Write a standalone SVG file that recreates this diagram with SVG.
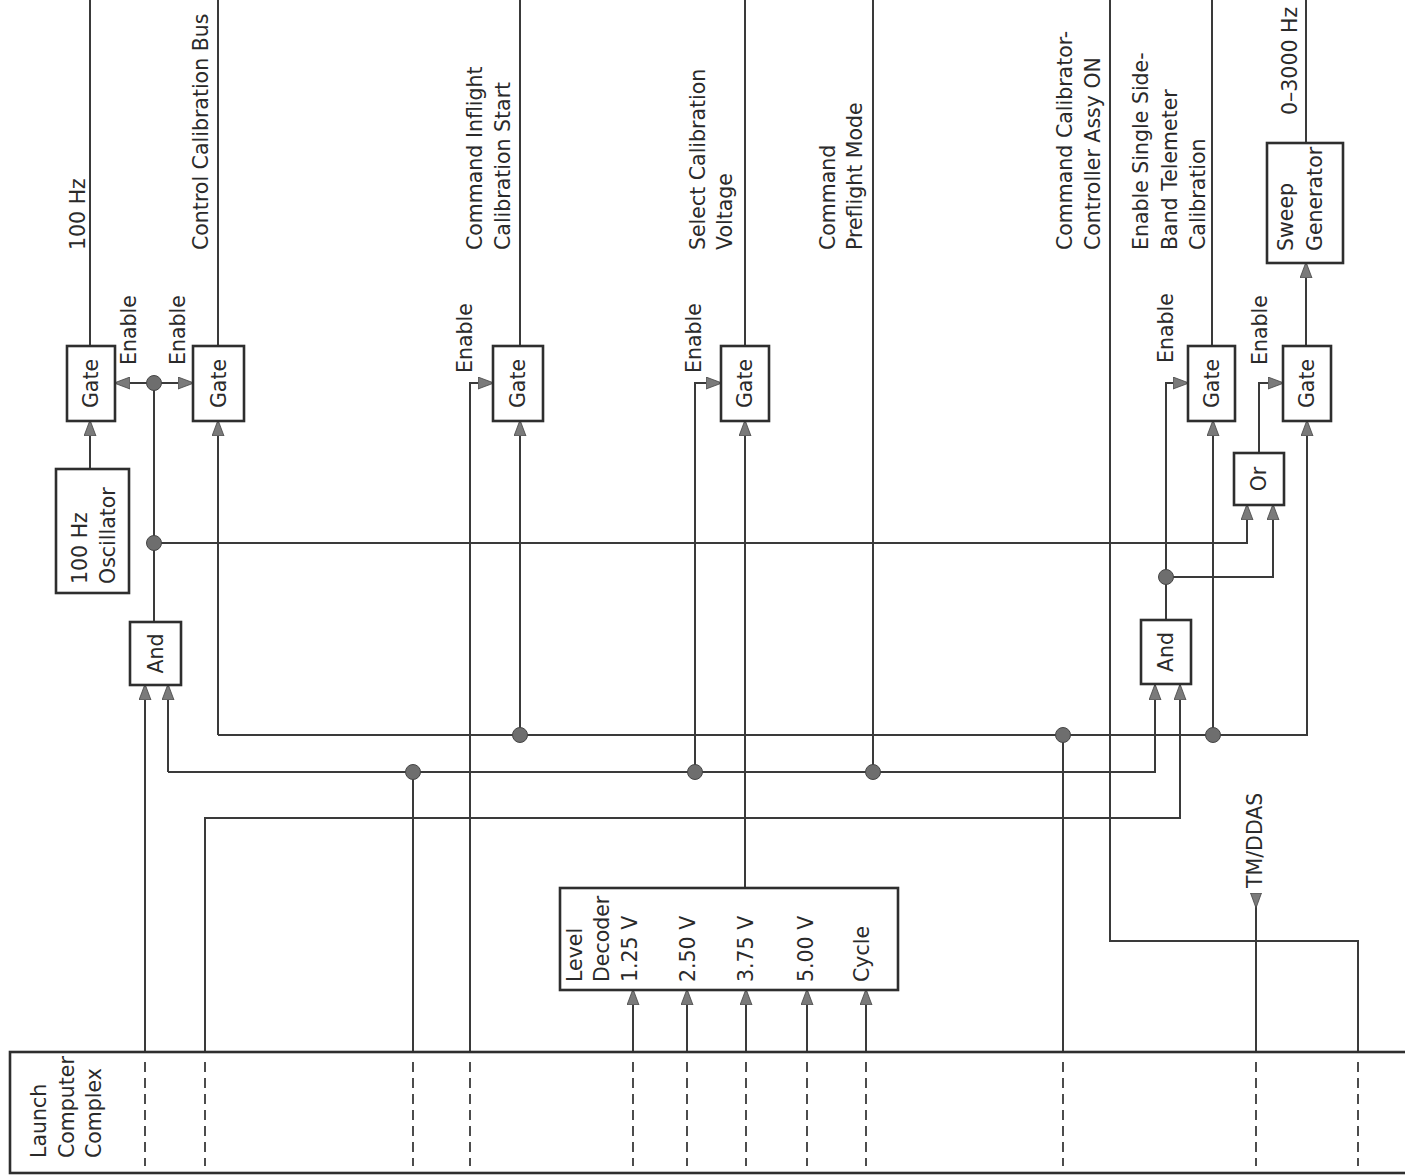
<svg xmlns="http://www.w3.org/2000/svg" width="1405" height="1175" viewBox="0 0 1405 1175">
<defs>
<style>
.bg{fill:#ffffff}
.box{fill:none;stroke:#2e2e2e;stroke-width:2.6}
.w{fill:none;stroke:#3a3a3a;stroke-width:2}
.d{fill:none;stroke:#3a3a3a;stroke-width:1.8;stroke-dasharray:10 6}
.dot{fill:#6e6e6e;stroke:#454545;stroke-width:1}
text{font-family:"DejaVu Sans","Liberation Sans",sans-serif;font-size:20.5px;fill:#2a2a2a}
.m{text-anchor:middle}
</style>
<marker id="arr" viewBox="0 0 16 13" refX="15" refY="6.5" markerWidth="16" markerHeight="13" markerUnits="userSpaceOnUse" orient="auto">
<path d="M0,0.5 L16,6.5 L0,12.5 z" fill="#7a7a7a" stroke="#444" stroke-width="0.8"/>
</marker>
<marker id="tip" viewBox="0 0 15 12" refX="0" refY="6" markerWidth="15" markerHeight="12" markerUnits="userSpaceOnUse" orient="auto">
<path d="M0,0.5 L15,6 L0,11.5 z" fill="#7a7a7a" stroke="#444" stroke-width="0.8"/>
</marker>
</defs>
<rect class="bg" x="0" y="0" width="1405" height="1175"/>

<g id="connectors">
<path class="w" d="M90,469 L90,421" marker-end="url(#arr)"/>
<path class="w" d="M90,346 L90,0"/>
<path class="w" d="M218,346 L218,0"/>
<path class="w" d="M154,622 L154,383"/>
<path class="w" d="M154,383 L115,383" marker-end="url(#arr)"/>
<path class="w" d="M154,383 L193,383" marker-end="url(#arr)"/>
<path class="w" d="M154,543 L1247,543 L1247,505" marker-end="url(#arr)"/>
<path class="w" d="M218,735 L218,421" marker-end="url(#arr)"/>
<path class="w" d="M218,735 L1307,735 L1307,421" marker-end="url(#arr)"/>
<path class="w" d="M520,735 L520,421" marker-end="url(#arr)"/>
<path class="w" d="M1213,735 L1213,421" marker-end="url(#arr)"/>
<path class="w" d="M1063,735 L1063,1052"/>
<path class="w" d="M168,772 L168,685" marker-end="url(#arr)"/>
<path class="w" d="M168,772 L1155,772 L1155,685" marker-end="url(#arr)"/>
<path class="w" d="M413,772 L413,1052"/>
<path class="w" d="M695,772 L695,383 L721,383" marker-end="url(#arr)"/>
<path class="w" d="M873,772 L873,0"/>
<path class="w" d="M145,1052 L145,685" marker-end="url(#arr)"/>
<path class="w" d="M205,1052 L205,818 L1180,818 L1180,685" marker-end="url(#arr)"/>
<path class="w" d="M470,1052 L470,383 L493,383" marker-end="url(#arr)"/>
<path class="w" d="M520,346 L520,0"/>
<path class="w" d="M745,888 L745,421" marker-end="url(#arr)"/>
<path class="w" d="M745,346 L745,0"/>
<path class="w" d="M633,1052 L633,990" marker-end="url(#arr)"/>
<path class="w" d="M687,1052 L687,990" marker-end="url(#arr)"/>
<path class="w" d="M746,1052 L746,990" marker-end="url(#arr)"/>
<path class="w" d="M807,1052 L807,990" marker-end="url(#arr)"/>
<path class="w" d="M866,1052 L866,990" marker-end="url(#arr)"/>
<path class="w" d="M1110,0 L1110,941 L1358,941 L1358,1052"/>
<path class="w" d="M1256,893 L1256,1052" marker-start="url(#tip)"/>
<path class="w" d="M1166,620 L1166,383 L1188,383" marker-end="url(#arr)"/>
<path class="w" d="M1166,577 L1273,577 L1273,505" marker-end="url(#arr)"/>
<path class="w" d="M1259,453 L1259,383 L1283,383" marker-end="url(#arr)"/>
<path class="w" d="M1212,346 L1212,0"/>
<path class="w" d="M1306,346 L1306,263" marker-end="url(#arr)"/>
<path class="w" d="M1306,143 L1306,0"/>
<g id="dashes">
<path class="d" d="M145,1062 V1166 M205,1062 V1166 M413,1062 V1166 M470,1062 V1166 M633,1062 V1166 M687,1062 V1166 M746,1062 V1166 M807,1062 V1166 M866,1062 V1166 M1063,1062 V1166 M1256,1062 V1166 M1358,1062 V1166"/>
</g>
<g id="junctions">
<circle class="dot" cx="154" cy="383" r="7.5"/>
<circle class="dot" cx="154" cy="543" r="7.5"/>
<circle class="dot" cx="520" cy="735" r="7.5"/>
<circle class="dot" cx="1063" cy="735" r="7.5"/>
<circle class="dot" cx="1213" cy="735" r="7.5"/>
<circle class="dot" cx="413" cy="772" r="7.5"/>
<circle class="dot" cx="695" cy="772" r="7.5"/>
<circle class="dot" cx="873" cy="772" r="7.5"/>
<circle class="dot" cx="1166" cy="577" r="7.5"/>
</g>
</g>

<g id="labels">
<text transform="translate(85,250) rotate(-90)">100 Hz</text>
<text transform="translate(208,250) rotate(-90)">Control Calibration Bus</text>
<text transform="translate(136,365) rotate(-90)">Enable</text>
<text transform="translate(185,365) rotate(-90)">Enable</text>
<text transform="translate(482,250) rotate(-90)">Command Inflight</text>
<text transform="translate(510,250) rotate(-90)">Calibration Start</text>
<text transform="translate(472,373) rotate(-90)">Enable</text>
<text transform="translate(705,250) rotate(-90)">Select Calibration</text>
<text transform="translate(732,250) rotate(-90)">Voltage</text>
<text transform="translate(701,373) rotate(-90)">Enable</text>
<text transform="translate(835,250) rotate(-90)">Command</text>
<text transform="translate(862,250) rotate(-90)">Preflight Mode</text>
<text transform="translate(1072,250) rotate(-90)">Command Calibrator-</text>
<text transform="translate(1100,250) rotate(-90)">Controller Assy ON</text>
<text transform="translate(1148,250) rotate(-90)">Enable Single Side-</text>
<text transform="translate(1177,250) rotate(-90)">Band Telemeter</text>
<text transform="translate(1205,250) rotate(-90)">Calibration</text>
<text transform="translate(1173,363) rotate(-90)">Enable</text>
<text transform="translate(1267,365) rotate(-90)">Enable</text>
<text transform="translate(1297,115) rotate(-90)">0–3000 Hz</text>
<text transform="translate(1262,888) rotate(-90)">TM/DDAS</text>
</g>

<g id="gate1"><rect class="box" x="67" y="346" width="48" height="75"/><text class="m" transform="translate(98,383.5) rotate(-90)">Gate</text></g>
<g id="gate2"><rect class="box" x="193" y="346" width="51" height="75"/><text class="m" transform="translate(225.5,383.5) rotate(-90)">Gate</text></g>
<g id="gate3"><rect class="box" x="493" y="346" width="50" height="75"/><text class="m" transform="translate(525,383.5) rotate(-90)">Gate</text></g>
<g id="gate4"><rect class="box" x="721" y="346" width="48" height="75"/><text class="m" transform="translate(752,383.5) rotate(-90)">Gate</text></g>
<g id="gate5"><rect class="box" x="1188" y="346" width="47" height="75"/><text class="m" transform="translate(1218.5,383.5) rotate(-90)">Gate</text></g>
<g id="gate6"><rect class="box" x="1283" y="346" width="48" height="75"/><text class="m" transform="translate(1314,383.5) rotate(-90)">Gate</text></g>
<g id="oscillator"><rect class="box" x="56" y="469" width="73" height="124"/><text transform="translate(87,584) rotate(-90)">100 Hz</text><text transform="translate(115,584) rotate(-90)">Oscillator</text></g>
<g id="and1"><rect class="box" x="130" y="622" width="51" height="63"/><text class="m" transform="translate(163,653.5) rotate(-90)">And</text></g>
<g id="and2"><rect class="box" x="1141" y="620" width="50" height="64"/><text class="m" transform="translate(1173,652) rotate(-90)">And</text></g>
<g id="or"><rect class="box" x="1234" y="453" width="50" height="52"/><text class="m" transform="translate(1266,479) rotate(-90)">Or</text></g>
<g id="sweep"><rect class="box" x="1267" y="143" width="76" height="120"/><text transform="translate(1293,251) rotate(-90)">Sweep</text><text transform="translate(1322,251) rotate(-90)">Generator</text></g>
<g id="decoder"><rect class="box" x="560" y="888" width="338" height="102"/>
<text transform="translate(582,982) rotate(-90)">Level</text>
<text transform="translate(609,982) rotate(-90)">Decoder</text>
<text transform="translate(637,982) rotate(-90)">1.25 V</text>
<text transform="translate(695,982) rotate(-90)">2.50 V</text>
<text transform="translate(753,982) rotate(-90)">3.75 V</text>
<text transform="translate(813,982) rotate(-90)">5.00 V</text>
<text transform="translate(869,982) rotate(-90)">Cycle</text>
</g>
<g id="lcc"><rect class="box" x="10" y="1052" width="1410" height="121"/>
<text transform="translate(46,1158) rotate(-90)">Launch</text>
<text transform="translate(74,1158) rotate(-90)">Computer</text>
<text transform="translate(101,1158) rotate(-90)">Complex</text>
</g>
</svg>
